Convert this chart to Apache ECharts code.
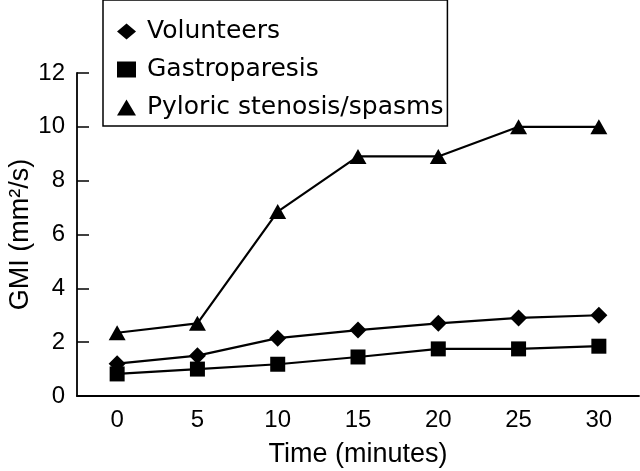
<!DOCTYPE html>
<html>
<head>
<meta charset="utf-8">
<script src="https://cdn.jsdelivr.net/npm/echarts@6/dist/echarts.min.js"></script>
<style>html,body{margin:0;padding:0;background:#fff;}#c{width:640px;height:471px;}</style>
</head>
<body>
<div id="c"></div>
<script>
var categories = ['0', '5', '10', '15', '20', '25', '30'];
var volunteers = [1.2, 1.5, 2.15, 2.45, 2.7, 2.9, 3.0];
var gastroparesis = [0.82, 1.0, 1.18, 1.45, 1.75, 1.75, 1.85];
var pyloric = [2.35, 2.7, 6.85, 8.9, 8.9, 10.0, 10.0];
var yTicks = [0, 2, 4, 6, 8, 10, 12];

var NUMFONT = 'Liberation Sans';
var TXTFONT = 'DejaVu Sans';
var chart = echarts.init(document.getElementById('c'));
chart.setOption({
  backgroundColor: '#fff',
  animation: false,
  textStyle: {fontFamily: NUMFONT, color: '#000'},
  grid: {left: 77, right: 1, top: 73, bottom: 75, containLabel: false, outerBoundsMode: 'none'},
  legend: {
    orient: 'vertical',
    left: 103, top: 0,
    padding: [19, 4, 6, 14],
    itemGap: 13,
    itemWidth: 19, itemHeight: 16,
    borderColor: '#000', borderWidth: 1.5,
    textStyle: {fontFamily: TXTFONT, fontSize: 25, color: '#000', padding: [0, 0, 0, 6]},
    data: [
      {name: 'Volunteers', icon: 'diamond'},
      {name: 'Gastroparesis', icon: 'rect'},
      {name: 'Pyloric stenosis/spasms', icon: 'triangle'}
    ]
  },
  xAxis: {
    type: 'category',
    data: categories,
    boundaryGap: true,
    name: 'Time (minutes)',
    nameLocation: 'middle',
    nameGap: 45,
    nameTextStyle: {fontFamily: NUMFONT, fontSize: 27, color: '#000'},
    axisLine: {lineStyle: {color: '#000', width: 1.8}},
    axisTick: {inside: true, length: 11, interval: 0, lineStyle: {color: '#000', width: 1.5}},
    axisLabel: {fontFamily: NUMFONT, fontSize: 24, color: '#000', margin: 12},
    splitLine: {show: false}
  },
  yAxis: {
    type: 'value',
    min: yTicks[0], max: yTicks[yTicks.length - 1], interval: 2,
    name: 'GMI (mm²/s)',
    nameLocation: 'middle',
    nameGap: 43,
    nameMoveOverlap: false,
    nameTextStyle: {fontFamily: NUMFONT, fontSize: 27, color: '#000'},
    axisLine: {show: true, lineStyle: {color: '#000', width: 1.8}},
    axisTick: {show: true, inside: true, length: 12, lineStyle: {color: '#000', width: 1.5}},
    axisLabel: {fontFamily: NUMFONT, fontSize: 24, color: '#000', margin: 12},
    splitLine: {show: false}
  },
  series: [
    {name: 'Volunteers', type: 'line', data: volunteers, symbol: 'diamond', symbolSize: 17,
     itemStyle: {color: '#000'}, lineStyle: {color: '#000', width: 2.2}},
    {name: 'Gastroparesis', type: 'line', data: gastroparesis, symbol: 'rect', symbolSize: 15,
     itemStyle: {color: '#000'}, lineStyle: {color: '#000', width: 2.2}},
    {name: 'Pyloric stenosis/spasms', type: 'line', data: pyloric, symbol: 'triangle', symbolSize: [17, 15],
     itemStyle: {color: '#000'}, lineStyle: {color: '#000', width: 2.2}}
  ]
});
</script>
</body>
</html>
